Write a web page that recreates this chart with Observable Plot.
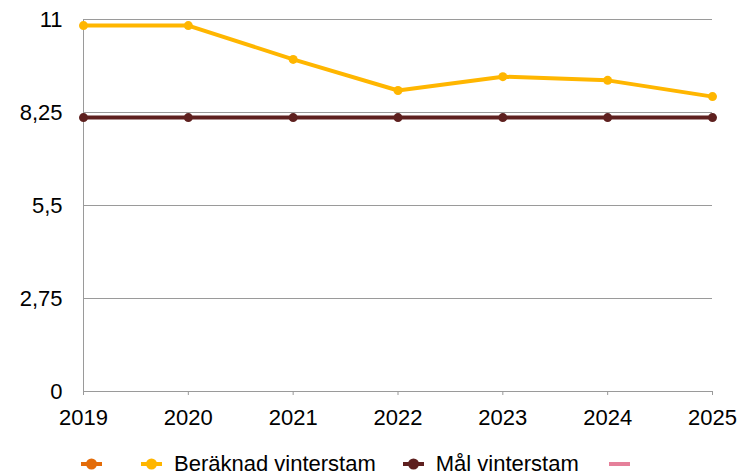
<!DOCTYPE html>
<html>
<head>
<meta charset="utf-8">
<script src="https://cdn.jsdelivr.net/npm/d3@7"></script>
<script src="https://cdn.jsdelivr.net/npm/@observablehq/plot@0.6"></script>
<style>
  html, body { margin: 0; padding: 0; background: #fff; }
  body { width: 737px; height: 475px; overflow: hidden; font-family: "Liberation Sans", Arial, sans-serif; }
  #chart svg { display: block; }
  #legend { display: flex; align-items: center; height: 26px; margin-top: 11px; padding-left: 81px; font-size: 22px; line-height: 26px; color: #000; }
  #legend .sw { display: block; }
</style>
</head>
<body>
<div id="chart"></div>
<div id="legend"></div>
<script>
const years = [2019, 2020, 2021, 2022, 2023, 2024, 2025];
const beraknad = [10.82, 10.82, 9.82, 8.9, 9.31, 9.2, 8.72];
const mal = [8.1, 8.1, 8.1, 8.1, 8.1, 8.1, 8.1];
const yTicks = [0, 2.75, 5.5, 8.25, 11];
const yTickLabels = ["0", "2,75", "5,5", "8,25", "11"];
const legendNames = ["", "Beräknad vinterstam", "Mål vinterstam", ""];
const legendColors = ["#E36C09", "#FFB600", "#5E201F", "#E5809A"];
const legendKinds = ["dot", "dot", "dot", "dash"];

const rowsB = years.map((y, i) => ({year: y, value: beraknad[i]}));
const rowsM = years.map((y, i) => ({year: y, value: mal[i]}));

const chart = Plot.plot({
  width: 737,
  height: 440,
  marginLeft: 83,
  marginRight: 25,
  marginTop: 19,
  marginBottom: 49,
  style: {fontFamily: '"Liberation Sans", Arial, sans-serif', fontSize: "22px", color: "#000", background: "#fff"},
  x: {domain: [2019, 2025], axis: null},
  y: {domain: [0, 11], axis: null},
  marks: [
    Plot.ruleY(yTicks, {stroke: "#9a9a9a", strokeWidth: 1}),
    Plot.ruleX([2019], {stroke: "#9a9a9a", strokeWidth: 1}),
    Plot.axisY({ticks: yTicks, tickFormat: d => yTickLabels[yTicks.indexOf(d)], tickSize: 0, tickPadding: 21, fontSize: 22, fill: "#000", label: null}),
    Plot.axisX({ticks: years, tickFormat: d => String(d), tickSize: 4, tickPadding: 14, stroke: "#9a9a9a", fontSize: 22, fill: "#000", label: null}),
    Plot.lineY(rowsM, {x: "year", y: "value", stroke: "#5E201F", strokeWidth: 4}),
    Plot.dot(rowsM, {x: "year", y: "value", r: 4.5, fill: "#5E201F"}),
    Plot.lineY(rowsB, {x: "year", y: "value", stroke: "#FFB600", strokeWidth: 4}),
    Plot.dot(rowsB, {x: "year", y: "value", r: 4.5, fill: "#FFB600"})
  ]
});
document.getElementById("chart").appendChild(chart);

const legend = document.getElementById("legend");
const gaps = [0, 39, 27, 30];
legendNames.forEach((name, i) => {
  const ns = "http://www.w3.org/2000/svg";
  const svg = document.createElementNS(ns, "svg");
  svg.setAttribute("width", 21);
  svg.setAttribute("height", 14);
  svg.setAttribute("class", "sw");
  svg.style.marginLeft = gaps[i] + "px";
  const line = document.createElementNS(ns, "line");
  line.setAttribute("x1", 0); line.setAttribute("x2", 21);
  line.setAttribute("y1", 7); line.setAttribute("y2", 7);
  line.setAttribute("stroke", legendColors[i]);
  line.setAttribute("stroke-width", 4);
  svg.appendChild(line);
  if (legendKinds[i] === "dot") {
    const c = document.createElementNS(ns, "circle");
    c.setAttribute("cx", 10.5); c.setAttribute("cy", 7); c.setAttribute("r", 5.5);
    c.setAttribute("fill", legendColors[i]);
    svg.appendChild(c);
  }
  legend.appendChild(svg);
  if (name) {
    const span = document.createElement("span");
    span.textContent = name;
    span.style.marginLeft = "12px";
    legend.appendChild(span);
  }
});
</script>
</body>
</html>
